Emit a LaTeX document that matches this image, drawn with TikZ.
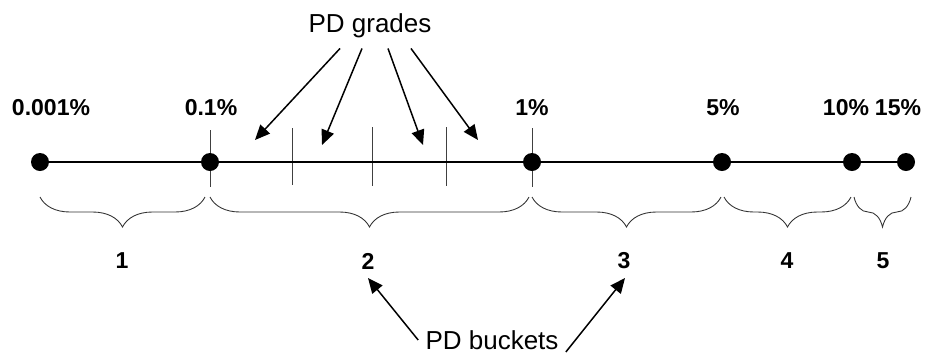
\documentclass[tikz,border=0pt]{standalone}
\usepackage{fontspec}
\setmainfont{Liberation Sans}
\usepackage{tikz}
\usetikzlibrary{arrows.meta, decorations.pathreplacing}
\tikzstyle{dot} = [circle, fill=black, inner sep=0pt, minimum size=0.36cm]
\tikzstyle{rate} = [inner sep=0pt, font=\fontsize{13.1}{15}\selectfont\bfseries]
\tikzstyle{bucket} = [inner sep=0pt, font=\fontsize{13.1}{15}\selectfont\bfseries]
\tikzstyle{callout} = [font=\fontsize{14.8}{17}\selectfont]
\tikzstyle{axis} = [line width=0.7pt]
\tikzstyle{tick} = [line width=0.5pt, black!75]
\tikzstyle{brace} = [line width=0.5pt, black!80, decorate, decoration={brace, mirror, amplitude=0.6cm}]
\tikzstyle{arrow} = [line width=0.85pt, -{Triangle[length=0.3cm, width=0.26cm]}]

\begin{document}
\begin{tikzpicture}[x=0.02cm, y=-0.02cm]
\useasboundingbox (0,0) rectangle (932,353);

% ticks
\draw [tick] (210,130) -- (210,187);
\draw [tick] (532,128) -- (532,187);
\draw [tick] (292,128) -- (292,185);
\draw [tick] (372,127) -- (372,186);
\draw [tick] (446,127) -- (446,186);

\node (p0) [dot] at (40,162) {};
\node (p1) [dot] at (210,162) {};
\node (p2) [dot] at (532,162) {};
\node (p3) [dot] at (722,162) {};
\node (p4) [dot] at (852,162) {};
\node (p5) [dot] at (906,162) {};

\draw [axis] (p0) -- (p1) -- (p2) -- (p3) -- (p4) -- (p5);

\node (r0) [rate] at (51,108) {0.001\%};
\node (r1) [rate] at (211,108) {0.1\%};
\node (r2) [rate] at (532,108) {1\%};
\node (r3) [rate] at (723,108) {5\%};
\node (r4) [rate] at (846,108) {10\%};
\node (r5) [rate] at (898,108) {15\%};

% buckets
\draw [brace] (40,197) -- (205,197);
\draw [brace] (210,197) -- (529,197);
\draw [brace] (532,197) -- (721,197);
\draw [brace] (724,197) -- (851,197);
\draw [brace] (854,197) -- (911,197);

\node (b1) [bucket] at (122,261) {1};
\node (b2) [bucket] at (368,261) {2};
\node (b3) [bucket] at (624,261) {3};
\node (b4) [bucket] at (787,261) {4};
\node (b5) [bucket] at (883,261) {5};

\node (grades) [callout, inner sep=0.2cm] at (370,26) {PD grades};
\node (buckets) [callout, inner sep=0.14cm] at (492,340) {PD buckets};

\coordinate (g1) at (255,140);
\coordinate (g2) at (322,145);
\coordinate (g3) at (423,145);
\coordinate (g4) at (478,140);
\coordinate (k2) at (368,278);
\coordinate (k3) at (625,278);

\draw [arrow] ([xshift=-0.6cm]grades.south) -- (g1);
\draw [arrow] ([xshift=-0.16cm]grades.south) -- (g2);
\draw [arrow] ([xshift=0.36cm]grades.south) -- (g3);
\draw [arrow] ([xshift=0.82cm]grades.south) -- (g4);

\draw [arrow] (buckets.west) -- (k2);
\draw [arrow] ([yshift=-0.24cm]buckets.east) -- (k3);

\end{tikzpicture}
\end{document}
